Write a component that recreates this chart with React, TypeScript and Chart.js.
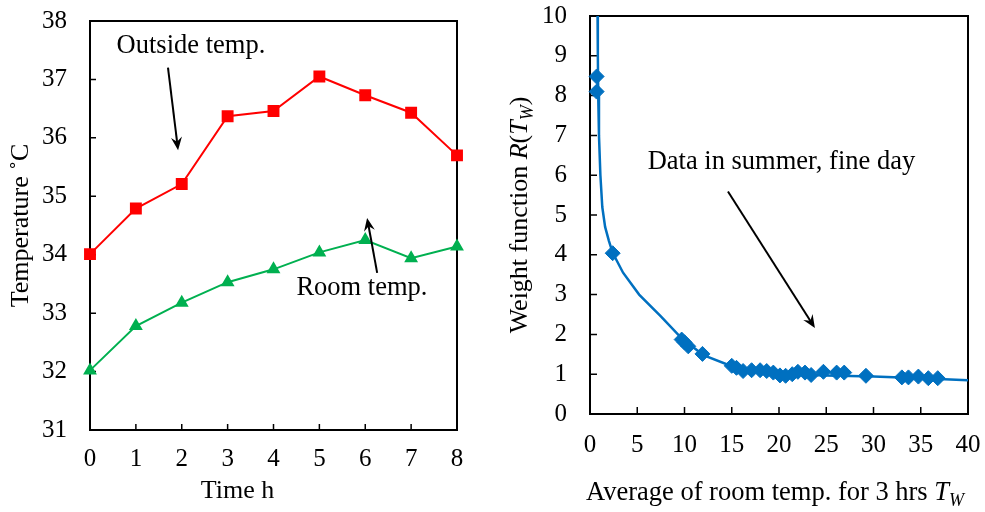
import React, { useEffect, useRef } from "react";
import { Chart, registerables } from "chart.js";
Chart.register(...registerables);

const FONT = '"Liberation Serif", "Times New Roman", serif';

// Left panel data
const hours = [0, 1, 2, 3, 4, 5, 6, 7, 8];
const outsideTemp = [34.01, 34.79, 35.21, 36.37, 36.46, 37.05, 36.73, 36.43, 35.7];
const roomTemp = [32.02, 32.78, 33.18, 33.53, 33.75, 34.04, 34.25, 33.94, 34.14];

// Right panel data (measured points)
const twPoints = [0.7, 0.7, 2.4, 9.7, 10.0, 10.4, 11.9, 15.0, 15.5, 16.2, 17.1, 18.0, 18.7, 19.4, 20.1, 20.7, 21.4, 22.0, 22.75, 23.4, 24.7, 26.1, 26.9, 29.2, 33.0, 33.7, 34.75, 35.8, 36.8];
const rPoints = [8.48, 8.1, 4.04, 1.87, 1.8, 1.7, 1.51, 1.21, 1.16, 1.08, 1.1, 1.1, 1.08, 1.04, 0.97, 0.96, 1.0, 1.06, 1.04, 0.98, 1.06, 1.04, 1.04, 0.96, 0.92, 0.92, 0.94, 0.9, 0.9];

// Right panel fitted curve
const curveX = [0.8, 0.83, 0.87, 0.95, 1.1, 1.3, 1.6, 2.0, 2.4, 3.5, 5.2, 7.5, 9.7, 12, 15, 17, 20, 25, 30, 35, 40];
const curveY = [10, 9, 8, 7, 6, 5.2, 4.7, 4.35, 4.05, 3.55, 3.0, 2.45, 1.9, 1.48, 1.2, 1.1, 1.0, 0.97, 0.94, 0.9, 0.85];

// Annotations (data coordinates)
const leftNotes = [
  { text: "Outside temp.", x: 0.58, y: 37.575 },
  { text: "Room temp.", x: 4.5, y: 33.43 },
];
const leftArrows = [
  { x1: 1.7, y1: 37.2, x2: 1.92, y2: 35.79 },
  { x1: 6.26, y1: 33.69, x2: 6.04, y2: 34.63 },
];
const rightNotes = [{ text: "Data in summer, fine day", x: 6.1, y: 6.34 }];
const rightArrows = [{ x1: 14.6, y1: 5.59, x2: 23.8, y2: 2.16 }];

type Seg = { t: string; it?: boolean; sub?: boolean };

function drawRich(ctx: CanvasRenderingContext2D, segs: Seg[], cx: number, cy: number, size: number, rot: boolean) {
  ctx.save();
  ctx.translate(cx, cy);
  if (rot) ctx.rotate(-Math.PI / 2);
  const fontOf = (s: Seg) => `${s.it ? "italic " : ""}${s.sub ? Math.round(size * 0.68) : size}px ${FONT}`;
  let total = 0;
  for (const s of segs) {
    ctx.font = fontOf(s);
    total += ctx.measureText(s.t).width;
  }
  let x = -total / 2;
  ctx.textBaseline = "middle";
  ctx.textAlign = "left";
  ctx.fillStyle = "#000";
  for (const s of segs) {
    ctx.font = fontOf(s);
    ctx.fillText(s.t, x, s.sub ? size * 0.32 : 0);
    x += ctx.measureText(s.t).width;
  }
  ctx.restore();
}

function drawArrow(ctx: CanvasRenderingContext2D, x1: number, y1: number, x2: number, y2: number) {
  const ang = Math.atan2(y2 - y1, x2 - x1);
  const len = 13;
  const half = 5.5;
  const bx = x2 - Math.cos(ang) * len;
  const by = y2 - Math.sin(ang) * len;
  ctx.beginPath();
  ctx.moveTo(x1, y1);
  ctx.lineTo(x2 - Math.cos(ang) * 8, y2 - Math.sin(ang) * 8);
  ctx.lineWidth = 2;
  ctx.strokeStyle = "#000";
  ctx.stroke();
  const nx = -Math.sin(ang), ny = Math.cos(ang);
  ctx.beginPath();
  ctx.moveTo(x2, y2);
  ctx.lineTo(bx + nx * half, by + ny * half);
  ctx.lineTo(x2 - Math.cos(ang) * 8.5, y2 - Math.sin(ang) * 8.5);
  ctx.lineTo(bx - nx * half, by - ny * half);
  ctx.closePath();
  ctx.fillStyle = "#000";
  ctx.fill();
}

type DecorCfg = {
  tickLen: number;
  notes: { text: string; x: number; y: number }[];
  arrows: { x1: number; y1: number; x2: number; y2: number }[];
  yTitle: Seg[];
  yTitleX: number;
  xTitle: Seg[];
  xTitleX: number;
  xTitleY: number;
  xTitleSize: number;
};

function makeDecor(cfg: DecorCfg) {
  return {
    id: "decor",
    beforeDatasetsDraw(chart: any) {
      const ctx: CanvasRenderingContext2D = chart.ctx;
      const { left, right, top, bottom } = chart.chartArea;
      const xs = chart.scales.x, ys = chart.scales.y;
      ctx.save();
      ctx.strokeStyle = "#000";
      ctx.lineWidth = 2;
      ctx.strokeRect(left, top, right - left, bottom - top);
      ctx.lineWidth = 1.5;
      ctx.beginPath();
      xs.ticks.forEach((t: any) => {
        const px = xs.getPixelForValue(t.value);
        ctx.moveTo(px, bottom);
        ctx.lineTo(px, bottom - cfg.tickLen);
      });
      ys.ticks.forEach((t: any) => {
        const py = ys.getPixelForValue(t.value);
        ctx.moveTo(left, py);
        ctx.lineTo(left + cfg.tickLen, py);
      });
      ctx.stroke();
      ctx.restore();
    },
    afterDraw(chart: any) {
      const ctx: CanvasRenderingContext2D = chart.ctx;
      const { top, bottom } = chart.chartArea;
      const xs = chart.scales.x, ys = chart.scales.y;
      ctx.save();
      cfg.arrows.forEach((a) => {
        drawArrow(ctx, xs.getPixelForValue(a.x1), ys.getPixelForValue(a.y1), xs.getPixelForValue(a.x2), ys.getPixelForValue(a.y2));
      });
      ctx.font = `26.5px ${FONT}`;
      ctx.fillStyle = "#000";
      ctx.textAlign = "left";
      ctx.textBaseline = "middle";
      cfg.notes.forEach((n) => {
        ctx.fillText(n.text, xs.getPixelForValue(n.x), ys.getPixelForValue(n.y));
      });
      ctx.restore();
      drawRich(ctx, cfg.yTitle, cfg.yTitleX, (top + bottom) / 2, 26, true);
      drawRich(ctx, cfg.xTitle, cfg.xTitleX, cfg.xTitleY, cfg.xTitleSize, false);
    },
  };
}

const tickFont = { family: FONT, size: 25 };

export default function App() {
  const leftRef = useRef<HTMLCanvasElement>(null);
  const rightRef = useRef<HTMLCanvasElement>(null);

  useEffect(() => {
    Chart.defaults.font.family = FONT;
    const fitX = (h: number) => (s: any) => {
      s.height = h;
      s.paddingLeft = 0;
      s.paddingRight = 0;
    };
    const fitY = (w: number) => (s: any) => {
      s.width = w;
      s.paddingTop = 0;
      s.paddingBottom = 0;
    };
    const left = new Chart(leftRef.current!, {
      type: "line",
      data: {
        datasets: [
          {
            label: "Outside temp.",
            data: hours.map((h, i) => ({ x: h, y: outsideTemp[i] })),
            borderColor: "#FF0000",
            backgroundColor: "#FF0000",
            pointStyle: "rect",
            pointRadius: 7,
            borderWidth: 2,
            clip: false as any,
          },
          {
            label: "Room temp.",
            data: hours.map((h, i) => ({ x: h, y: roomTemp[i] })),
            borderColor: "#00B050",
            backgroundColor: "#00B050",
            pointStyle: "triangle",
            pointRadius: 6,
            borderWidth: 2,
            clip: false as any,
          },
        ],
      },
      options: {
        animation: false,
        responsive: false,
        layout: { padding: { top: 21, right: 28, left: 0, bottom: 0 } },
        plugins: { legend: { display: false }, tooltip: { enabled: false } },
        scales: {
          x: {
            type: "linear",
            min: 0,
            max: 8,
            ticks: { stepSize: 1, font: tickFont, color: "#000", padding: 14 },
            grid: { display: false, drawTicks: false },
            border: { display: false },
            afterFit: fitX(82),
          },
          y: {
            min: 31,
            max: 38,
            ticks: { stepSize: 1, font: tickFont, color: "#000", padding: 23 },
            grid: { display: false, drawTicks: false },
            border: { display: false },
            afterFit: fitY(90),
          },
        },
      },
      plugins: [
        makeDecor({
          tickLen: 6,
          notes: leftNotes,
          arrows: leftArrows,
          yTitle: [{ t: "Temperature ˚C" }],
          yTitleX: 21,
          xTitle: [{ t: "Time h" }],
          xTitleX: 237.5,
          xTitleY: 491,
          xTitleSize: 26,
        }),
      ],
    } as any);

    const right = new Chart(rightRef.current!, {
      type: "scatter",
      data: {
        datasets: [
          {
            label: "Data",
            data: twPoints.map((x, i) => ({ x, y: rPoints[i] })),
            backgroundColor: "#0070C0",
            borderColor: "#0070C0",
            pointStyle: "rectRot",
            pointRadius: 7.5,
            showLine: false,
            clip: false as any,
          },
          {
            label: "Curve",
            data: curveX.map((x, i) => ({ x, y: curveY[i] })),
            borderColor: "#0070C0",
            backgroundColor: "#0070C0",
            borderWidth: 2.5,
            pointRadius: 0,
            showLine: true,
            clip: false as any,
          },
        ],
      },
      options: {
        animation: false,
        responsive: false,
        layout: { padding: { top: 16, right: 17, left: 0, bottom: 0 } },
        plugins: { legend: { display: false }, tooltip: { enabled: false } },
        scales: {
          x: {
            type: "linear",
            min: 0,
            max: 40,
            ticks: { stepSize: 5, font: tickFont, color: "#000", padding: 16 },
            grid: { display: false, drawTicks: false },
            border: { display: false },
            afterFit: fitX(98),
          },
          y: {
            min: 0,
            max: 10,
            ticks: { stepSize: 1, font: tickFont, color: "#000", padding: 23 },
            grid: { display: false, drawTicks: false },
            border: { display: false },
            afterFit: fitY(100),
          },
        },
      },
      plugins: [
        makeDecor({
          tickLen: 7,
          notes: rightNotes,
          arrows: rightArrows,
          yTitle: [
            { t: "Weight function " },
            { t: "R", it: true },
            { t: "(" },
            { t: "T", it: true },
            { t: "W", it: true, sub: true },
            { t: ")" },
          ],
          yTitleX: 30,
          xTitle: [
            { t: "Average of room temp. for 3 hrs " },
            { t: "T", it: true },
            { t: "W", it: true, sub: true },
          ],
          xTitleX: 285,
          xTitleY: 493,
          xTitleSize: 26.5,
        }),
      ],
    } as any);

    return () => {
      left.destroy();
      right.destroy();
    };
  }, []);

  return (
    <div style={{ position: "absolute", left: 0, top: 0, width: 985, height: 512, background: "#fff" }}>
      <canvas ref={leftRef} width={485} height={512} style={{ position: "absolute", left: 0, top: 0, display: "block" }} />
      <canvas ref={rightRef} width={495} height={512} style={{ position: "absolute", left: 490, top: 0, display: "block" }} />
    </div>
  );
}
